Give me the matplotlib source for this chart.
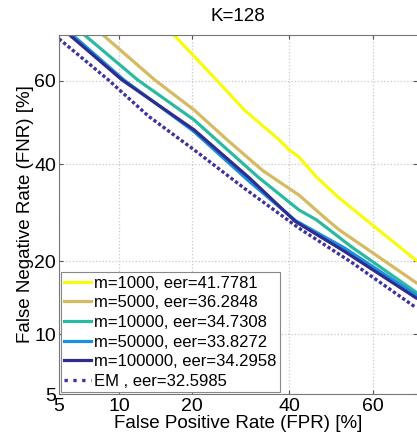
import numpy as np
import matplotlib
matplotlib.use("Agg")
import matplotlib.pyplot as plt
from matplotlib.ticker import FixedLocator, FixedFormatter, NullLocator
from matplotlib.legend_handler import HandlerLine2D
from statistics import NormalDist

plt.rcParams['font.family'] = ['Liberation Sans', 'DejaVu Sans']

# DET curves, FPR / FNR in percent
yellow_fpr = [17.1, 24.4, 30.0, 37.7, 40.0, 42.3, 46.5, 51.9, 58.3, 69.6]
yellow_fnr = [70.2, 60.2, 53.0, 45.8, 43.4, 41.7, 37.0, 32.4, 27.8, 20.2]

gold_fpr = [8.4, 14.3, 20.4, 26.5, 34.0, 42.3, 49.0, 51.9, 69.6]
gold_fnr = [70.2, 60.2, 53.0, 45.8, 38.5, 33.0, 27.8, 25.8, 16.6]

teal_fpr = [6.8, 12.1, 20.4, 24.4, 33.0, 42.3, 46.4, 55.0, 69.6]
teal_fnr = [70.2, 60.2, 50.6, 45.8, 37.0, 29.8, 27.8, 22.5, 15.2]

blue_fpr = [5.9, 10.5, 20.2, 31.1, 41.5, 53.1, 69.6]
blue_fnr = [70.2, 60.2, 48.0, 36.0, 27.6, 22.4, 14.8]

navy_fpr = [5.7, 10.3, 20.4, 31.1, 41.5, 53.1, 69.6]
navy_fnr = [70.2, 60.2, 48.2, 36.8, 27.4, 21.8, 14.4]

em_fpr = [5.0, 8.9, 13.5, 20.4, 30.0, 42.3, 55.0, 69.6]
em_fnr = [69.4, 60.2, 51.5, 43.4, 34.5, 26.1, 19.8, 13.1]

labels = ["m=1000, eer=41.7781", "m=5000, eer=36.2848", "m=10000, eer=34.7308",
          "m=50000, eer=33.8272", "m=100000, eer=34.2958", "EM , eer=32.5985"]
colors = ["#F9FB0E", "#D5BA62", "#2BB9A2", "#1A8FDF", "#2E2C8E", "#3F32A0"]
ticks = [5, 10, 20, 40, 60]

_nd = NormalDist()
_ppf = np.vectorize(_nd.inv_cdf, otypes=[float])
_cdf = np.vectorize(_nd.cdf, otypes=[float])


def probit(p):
    p = np.clip(np.asarray(p, dtype=float) / 100.0, 1e-6, 1 - 1e-6)
    return _ppf(p)


def unprobit(z):
    return _cdf(np.asarray(z, dtype=float)) * 100.0


def dotted_handle(handle, orig):
    handle.update_from(orig)
    handle.set_linestyle(':')


fig = plt.figure(figsize=(4.17, 4.36), dpi=100)
ax = fig.add_axes([0.1415, 0.0963, 0.8585, 0.8234])
ax.set_xscale('function', functions=(probit, unprobit))
ax.set_yscale('function', functions=(probit, unprobit))

curves = [(yellow_fpr, yellow_fnr), (gold_fpr, gold_fnr), (teal_fpr, teal_fnr),
          (blue_fpr, blue_fnr), (navy_fpr, navy_fnr)]
for (x, y), c, lab in zip(curves, colors[:5], labels[:5]):
    ax.plot(x, y, color=c, lw=2.3, label=lab)
em_line, = ax.plot(em_fpr, em_fnr, color=colors[5], lw=2.4, ls=(0, (1, 0.7)),
                   label=labels[5])

ax.set_xlim(5, 69.8)
ax.set_ylim(5, 70.2)
for axis in (ax.xaxis, ax.yaxis):
    axis.set_major_locator(FixedLocator(ticks))
    axis.set_major_formatter(FixedFormatter([str(t) for t in ticks]))
    axis.set_minor_locator(NullLocator())
ax.tick_params(direction='in', length=3, labelsize=14, top=True, right=True,
               color='#555555', pad=2)
ax.tick_params(axis='x', pad=3)
ax.grid(True, color='#c8c8c8', ls=':', lw=0.9)
for s in ax.spines.values():
    s.set_color('#777777')
ax.spines['right'].set_visible(False)

ax.set_xlabel("False Positive Rate (FPR) [%]", fontsize=13.5, labelpad=0)
ax.set_ylabel("False Negative Rate (FNR) [%]", fontsize=13.5, labelpad=0)
ax.set_title("K=128", fontsize=13.5, pad=10)

leg = ax.legend(loc='lower left', bbox_to_anchor=(0.005, 0.005), borderaxespad=0,
                fontsize=12, handlelength=1.6, handletextpad=0.2, labelspacing=0.28,
                borderpad=0.2, fancybox=False, framealpha=1, edgecolor='#888888',
                handler_map={em_line: HandlerLine2D(update_func=dotted_handle)})
leg.get_frame().set_linewidth(0.8)

fig.savefig("out.png", dpi=100)
